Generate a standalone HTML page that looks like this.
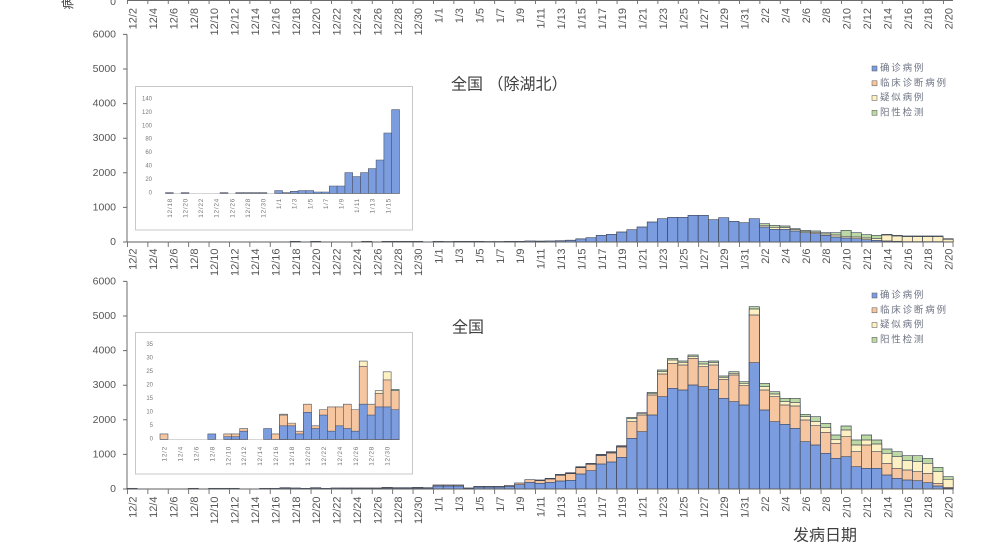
<!DOCTYPE html>
<html><head><meta charset="utf-8"><style>
html,body{margin:0;padding:0;background:#fff;width:1000px;height:553px;overflow:hidden}
svg{display:block}
.bars path{vector-effect:non-scaling-stroke;stroke:#3f4656;stroke-width:.7}
.ib path{vector-effect:non-scaling-stroke;stroke:#4a5262;stroke-width:.6}
.b{fill:#7b9de0}.o{fill:#f6c6a0}.y{fill:#fdf0c3}.g{fill:#bcd8a4}
.xl text{dominant-baseline:central}
.yl text{dominant-baseline:central}
.lg text{dominant-baseline:central}
</style></head><body>
<svg width="1000" height="553" viewBox="0 0 1000 553" xmlns="http://www.w3.org/2000/svg" font-family="'Liberation Sans','Noto Sans CJK SC',sans-serif" overflow="hidden">
<rect width="1000" height="553" fill="#fff"/>

<!-- top remnant -->
<text transform="translate(68,3) rotate(-90)" font-size="13" text-anchor="middle" dominant-baseline="central" fill="#444">病</text>
<text x="116" y="2" font-size="10.5" text-anchor="end" dominant-baseline="central" fill="#555">0</text>
<line x1="127" y1="0.5" x2="953" y2="0.5" stroke="#6b6b6b" stroke-width="1"/>
<line x1="127" y1="2" x2="954" y2="2" stroke="#6b6b6b" stroke-width="4" stroke-dasharray="0.9 19.5"/>
<g class="xl" transform="rotate(-90)" text-anchor="end" font-size="11" fill="#555">
<text x="-8" y="133.6">12/2</text><text x="-8" y="154">12/4</text><text x="-8" y="174.4">12/6</text><text x="-8" y="194.8">12/8</text><text x="-8" y="215.2">12/10</text><text x="-8" y="235.6">12/12</text><text x="-8" y="256">12/14</text><text x="-8" y="276.4">12/16</text><text x="-8" y="296.8">12/18</text><text x="-8" y="317.2">12/20</text><text x="-8" y="337.6">12/22</text><text x="-8" y="358">12/24</text><text x="-8" y="378.4">12/26</text><text x="-8" y="398.8">12/28</text><text x="-8" y="419.2">12/30</text><text x="-8" y="439.6">1/1</text><text x="-8" y="460">1/3</text><text x="-8" y="480.4">1/5</text><text x="-8" y="500.8">1/7</text><text x="-8" y="521.2">1/9</text><text x="-8" y="541.6">1/11</text><text x="-8" y="562">1/13</text><text x="-8" y="582.4">1/15</text><text x="-8" y="602.8">1/17</text><text x="-8" y="623.2">1/19</text><text x="-8" y="643.6">1/21</text><text x="-8" y="664">1/23</text><text x="-8" y="684.4">1/25</text><text x="-8" y="704.8">1/27</text><text x="-8" y="725.2">1/29</text><text x="-8" y="745.6">1/31</text><text x="-8" y="766">2/2</text><text x="-8" y="786.4">2/4</text><text x="-8" y="806.8">2/6</text><text x="-8" y="827.2">2/8</text><text x="-8" y="847.6">2/10</text><text x="-8" y="868">2/12</text><text x="-8" y="888.4">2/14</text><text x="-8" y="908.8">2/16</text><text x="-8" y="929.2">2/18</text><text x="-8" y="949.6">2/20</text>
</g>

<!-- ============ CHART 1 ============ -->
<g class="yl" font-size="10.5" text-anchor="end" fill="#555">
<text x="116" y="34.4">6000</text><text x="116" y="69">5000</text><text x="116" y="103.6">4000</text><text x="116" y="138.2">3000</text><text x="116" y="172.8">2000</text><text x="116" y="207.4">1000</text><text x="116" y="242">0</text>
</g>
<path d="M127 34.4V242M123 34.4h4M123 69h4M123 103.6h4M123 138.2h4M123 172.8h4M123 207.4h4M123 242h4" stroke="#6b6b6b" stroke-width="1" fill="none"/>

<text x="451" y="85" font-size="16" fill="#404040" dominant-baseline="central">全国 （除湖北）</text>

<g class="lg" font-size="9.5" letter-spacing="1.8" fill="#6d7382">
<rect x="872" y="66" width="5" height="5" class="b" stroke="#555" stroke-width=".5"/><text x="880" y="68.5">确诊病例</text>
<rect x="872" y="80.8" width="5" height="5" class="o" stroke="#555" stroke-width=".5"/><text x="880" y="83.3">临床诊断病例</text>
<rect x="872" y="95.5" width="5" height="5" class="y" stroke="#555" stroke-width=".5"/><text x="880" y="98">疑似病例</text>
<rect x="872" y="110.3" width="5" height="5" class="g" stroke="#555" stroke-width=".5"/><text x="880" y="112.8">阳性检测</text>
</g>

<!-- inset 1 -->
<rect x="135.5" y="86.5" width="277" height="143.5" fill="#fff" stroke="#c9c9c9" stroke-width="1"/>
<g class="yl" font-size="6" text-anchor="end" fill="#777">
<text x="152" y="99.5">140</text><text x="152" y="112.9">120</text><text x="152" y="126.3">100</text><text x="152" y="139.7">80</text><text x="152" y="153.1">60</text><text x="152" y="166.5">40</text><text x="152" y="179.9">20</text><text x="152" y="193.3">0</text>
</g>
<line x1="165" y1="193.5" x2="400" y2="193.5" stroke="#d5d5d5" stroke-width="1"/>
<g class="ib b" transform="translate(165.5,80) scale(7.8,0.33333)">
<path d="M0 338V340h1V338z"/><path d="M2 338V340h1V338z"/><path d="M7 338V340h1V338z"/><path d="M9 338V340h1V338z"/><path d="M10 338V340h1V338z"/><path d="M11 338V340h1V338z"/><path d="M12 338V340h1V338z"/><path d="M14 332V340h1V332z"/><path d="M15 338V340h1V338z"/><path d="M16 334V340h1V334z"/><path d="M17 332V340h1V332z"/><path d="M18 332V340h1V332z"/><path d="M19 336V340h1V336z"/><path d="M20 336V340h1V336z"/><path d="M21 318V340h1V318z"/><path d="M22 318V340h1V318z"/><path d="M23 278V340h1V278z"/><path d="M24 290V340h1V290z"/><path d="M25 278V340h1V278z"/><path d="M26 266V340h1V266z"/><path d="M27 240V340h1V240z"/><path d="M28 159V340h1V159z"/><path d="M29 89V340h1V89z"/>
</g>
<g class="xl" transform="rotate(-90)" text-anchor="end" font-size="6.5" letter-spacing="0.7" fill="#777">
<text x="-198" y="170.4">12/18</text><text x="-198" y="186">12/20</text><text x="-198" y="201.6">12/22</text><text x="-198" y="217.2">12/24</text><text x="-198" y="232.8">12/26</text><text x="-198" y="248.4">12/28</text><text x="-198" y="264">12/30</text><text x="-198" y="279.6">1/1</text><text x="-198" y="295.2">1/3</text><text x="-198" y="310.8">1/5</text><text x="-198" y="326.4">1/7</text><text x="-198" y="342">1/9</text><text x="-198" y="357.6">1/11</text><text x="-198" y="373.2">1/13</text><text x="-198" y="388.8">1/15</text>
</g>

<!-- chart 1 bars (base 185) -->
<g class="bars" transform="translate(127,180.33) scale(10.2,0.33333)">
<g class="g">
<path d="M62 130V185h1V130z"/><path d="M63 135V185h1V135z"/><path d="M64 137V185h1V137z"/><path d="M65 145V185h1V145z"/><path d="M66 150V185h1V150z"/><path d="M67 152V185h1V152z"/><path d="M68 157V185h1V157z"/><path d="M69 157V185h1V157z"/><path d="M70 150V185h1V150z"/><path d="M71 157V185h1V157z"/><path d="M72 163V185h1V163z"/><path d="M73 165V185h1V165z"/><path d="M74 162V185h1V162z"/><path d="M75 165V185h1V165z"/><path d="M76 167V185h1V167z"/><path d="M77 167V185h1V167z"/><path d="M78 167V185h1V167z"/><path d="M79 167V185h1V167z"/><path d="M80 175V185h1V175z"/>
</g>
<g class="y">
<path d="M62 135V185h1V135z"/><path d="M63 141V185h1V141z"/><path d="M64 142V185h1V142z"/><path d="M65 148V185h1V148z"/><path d="M66 153V185h1V153z"/><path d="M67 156V185h1V156z"/><path d="M68 161V185h1V161z"/><path d="M69 164V185h1V164z"/><path d="M70 168V185h1V168z"/><path d="M71 170V185h1V170z"/><path d="M72 173V185h1V173z"/><path d="M73 175V185h1V175z"/><path d="M74 164V185h1V164z"/><path d="M75 167V185h1V167z"/><path d="M76 169V185h1V169z"/><path d="M77 169V185h1V169z"/><path d="M78 169V185h1V169z"/><path d="M79 169V185h1V169z"/><path d="M80 177V185h1V177z"/>
</g>
<g class="b">
<path d="M16 183V185h1V183z"/><path d="M18 183V185h1V183z"/><path d="M23 183V185h1V183z"/><path d="M25 183V185h1V183z"/><path d="M26 183V185h1V183z"/><path d="M27 183V185h1V183z"/><path d="M28 183V185h1V183z"/><path d="M30 183V185h1V183z"/><path d="M31 183.5V185h1V183.5z"/><path d="M32 183V185h1V183z"/><path d="M33 183V185h1V183z"/><path d="M34 183V185h1V183z"/><path d="M35 183.5V185h1V183.5z"/><path d="M36 183.5V185h1V183.5z"/><path d="M37 183V185h1V183z"/><path d="M38 183V185h1V183z"/><path d="M39 181.8V185h1V181.8z"/><path d="M40 182.4V185h1V182.4z"/><path d="M41 181.8V185h1V181.8z"/><path d="M42 181.2V185h1V181.2z"/><path d="M43 179.8V185h1V179.8z"/><path d="M44 175.6V185h1V175.6z"/><path d="M45 172V185h1V172z"/><path d="M46 165V185h1V165z"/><path d="M47 162V185h1V162z"/><path d="M48 155V185h1V155z"/><path d="M49 148V185h1V148z"/><path d="M50 140V185h1V140z"/><path d="M51 125V185h1V125z"/><path d="M52 115V185h1V115z"/><path d="M53 111V185h1V111z"/><path d="M54 111V185h1V111z"/><path d="M55 105V185h1V105z"/><path d="M56 105V185h1V105z"/><path d="M57 118V185h1V118z"/><path d="M58 112V185h1V112z"/><path d="M59 123V185h1V123z"/><path d="M60 127V185h1V127z"/><path d="M61 115V185h1V115z"/><path d="M62 140V185h1V140z"/><path d="M63 147V185h1V147z"/><path d="M64 147V185h1V147z"/><path d="M65 152V185h1V152z"/><path d="M66 157V185h1V157z"/><path d="M67 160V185h1V160z"/><path d="M68 165V185h1V165z"/><path d="M69 170V185h1V170z"/><path d="M70 173V185h1V173z"/><path d="M71 175V185h1V175z"/><path d="M72 178V185h1V178z"/><path d="M73 180V185h1V180z"/><path d="M74 182V185h1V182z"/><path d="M75 183V185h1V183z"/><path d="M76 184V185h1V184z"/><path d="M77 184V185h1V184z"/><path d="M78 184V185h1V184z"/><path d="M79 184V185h1V184z"/><path d="M80 184.5V185h1V184.5z"/>
</g>
</g>
<line x1="127" y1="242" x2="953" y2="242" stroke="#5e5e5e" stroke-width="1"/>
<line x1="127" y1="244.5" x2="954" y2="244.5" stroke="#6b6b6b" stroke-width="5" stroke-dasharray="0.9 19.5"/>
<line x1="953" y1="242" x2="953" y2="247" stroke="#6b6b6b" stroke-width="0.9"/>
<g class="xl" transform="rotate(-90)" text-anchor="end" font-size="11" fill="#555">
<text x="-248.5" y="133.6">12/2</text><text x="-248.5" y="154">12/4</text><text x="-248.5" y="174.4">12/6</text><text x="-248.5" y="194.8">12/8</text><text x="-248.5" y="215.2">12/10</text><text x="-248.5" y="235.6">12/12</text><text x="-248.5" y="256">12/14</text><text x="-248.5" y="276.4">12/16</text><text x="-248.5" y="296.8">12/18</text><text x="-248.5" y="317.2">12/20</text><text x="-248.5" y="337.6">12/22</text><text x="-248.5" y="358">12/24</text><text x="-248.5" y="378.4">12/26</text><text x="-248.5" y="398.8">12/28</text><text x="-248.5" y="419.2">12/30</text><text x="-248.5" y="439.6">1/1</text><text x="-248.5" y="460">1/3</text><text x="-248.5" y="480.4">1/5</text><text x="-248.5" y="500.8">1/7</text><text x="-248.5" y="521.2">1/9</text><text x="-248.5" y="541.6">1/11</text><text x="-248.5" y="562">1/13</text><text x="-248.5" y="582.4">1/15</text><text x="-248.5" y="602.8">1/17</text><text x="-248.5" y="623.2">1/19</text><text x="-248.5" y="643.6">1/21</text><text x="-248.5" y="664">1/23</text><text x="-248.5" y="684.4">1/25</text><text x="-248.5" y="704.8">1/27</text><text x="-248.5" y="725.2">1/29</text><text x="-248.5" y="745.6">1/31</text><text x="-248.5" y="766">2/2</text><text x="-248.5" y="786.4">2/4</text><text x="-248.5" y="806.8">2/6</text><text x="-248.5" y="827.2">2/8</text><text x="-248.5" y="847.6">2/10</text><text x="-248.5" y="868">2/12</text><text x="-248.5" y="888.4">2/14</text><text x="-248.5" y="908.8">2/16</text><text x="-248.5" y="929.2">2/18</text><text x="-248.5" y="949.6">2/20</text>
</g>

<!-- ============ CHART 2 ============ -->
<g class="yl" font-size="10.5" text-anchor="end" fill="#555">
<text x="116" y="281.4">6000</text><text x="116" y="316">5000</text><text x="116" y="350.6">4000</text><text x="116" y="385.2">3000</text><text x="116" y="419.8">2000</text><text x="116" y="454.4">1000</text><text x="116" y="489">0</text>
</g>
<path d="M127 281.4V489M123 281.4h4M123 316h4M123 350.6h4M123 385.2h4M123 419.8h4M123 454.4h4M123 489h4" stroke="#6b6b6b" stroke-width="1" fill="none"/>

<text x="452" y="328" font-size="16" fill="#404040" dominant-baseline="central">全国</text>

<g class="lg" font-size="9.5" letter-spacing="1.8" fill="#6d7382">
<rect x="872" y="293" width="5" height="5" class="b" stroke="#555" stroke-width=".5"/><text x="880" y="295.5">确诊病例</text>
<rect x="872" y="307.8" width="5" height="5" class="o" stroke="#555" stroke-width=".5"/><text x="880" y="310.3">临床诊断病例</text>
<rect x="872" y="322.5" width="5" height="5" class="y" stroke="#555" stroke-width=".5"/><text x="880" y="325">疑似病例</text>
<rect x="872" y="337.3" width="5" height="5" class="g" stroke="#555" stroke-width=".5"/><text x="880" y="339.8">阳性检测</text>
</g>

<!-- inset 2 (base 358) -->
<rect x="135.5" y="332.5" width="277" height="141.5" fill="#fff" stroke="#c9c9c9" stroke-width="1"/>
<g class="yl" font-size="6" text-anchor="end" fill="#777">
<text x="153" y="344.8">35</text><text x="153" y="358.3">30</text><text x="153" y="371.8">25</text><text x="153" y="385.3">20</text><text x="153" y="398.8">15</text><text x="153" y="412.3">10</text><text x="153" y="425.8">5</text><text x="153" y="439.3">0</text>
</g>
<line x1="160" y1="439.5" x2="400" y2="439.5" stroke="#d5d5d5" stroke-width="1"/>
<g class="ib" transform="translate(160,320) scale(7.97,0.33333)">
<g class="g"><path d="M29 208V358h1V208z"/></g>
<g class="y"><path d="M15 282.7V358h1V282.7z"/><path d="M25 123.1V358h1V123.1z"/><path d="M27 212.2V358h1V212.2z"/><path d="M28 155.5V358h1V155.5z"/></g>
<g class="o">
<path d="M0 341.8V358h1V341.8z"/><path d="M8 341.8V358h1V341.8z"/><path d="M9 341.8V358h1V341.8z"/><path d="M10 325.6V358h1V325.6z"/><path d="M14 341.8V358h1V341.8z"/><path d="M15 285.1V358h1V285.1z"/><path d="M16 309.4V358h1V309.4z"/><path d="M17 333.7V358h1V333.7z"/><path d="M18 252.7V358h1V252.7z"/><path d="M19 317.5V358h1V317.5z"/><path d="M20 268.9V358h1V268.9z"/><path d="M21 260.8V358h1V260.8z"/><path d="M22 260.8V358h1V260.8z"/><path d="M23 252.7V358h1V252.7z"/><path d="M24 268.9V358h1V268.9z"/><path d="M25 139.3V358h1V139.3z"/><path d="M26 252.7V358h1V252.7z"/><path d="M27 220.3V358h1V220.3z"/><path d="M28 179.8V358h1V179.8z"/><path d="M29 212.2V358h1V212.2z"/>
</g>
<g class="b">
<path d="M6 341.8V358h1V341.8z"/><path d="M8 349.9V358h1V349.9z"/><path d="M9 349.9V358h1V349.9z"/><path d="M10 333.7V358h1V333.7z"/><path d="M13 325.6V358h1V325.6z"/><path d="M15 317.5V358h1V317.5z"/><path d="M16 317.5V358h1V317.5z"/><path d="M17 341.8V358h1V341.8z"/><path d="M18 277V358h1V277z"/><path d="M19 325.6V358h1V325.6z"/><path d="M20 285.1V358h1V285.1z"/><path d="M21 333.7V358h1V333.7z"/><path d="M22 317.5V358h1V317.5z"/><path d="M23 325.6V358h1V325.6z"/><path d="M24 333.7V358h1V333.7z"/><path d="M25 252.7V358h1V252.7z"/><path d="M26 285.1V358h1V285.1z"/><path d="M27 260.8V358h1V260.8z"/><path d="M28 260.8V358h1V260.8z"/><path d="M29 268.9V358h1V268.9z"/>
</g>
</g>
<g class="xl" transform="rotate(-90)" text-anchor="end" font-size="6.5" letter-spacing="0.7" fill="#777">
<text x="-446" y="165">12/2</text><text x="-446" y="180.9">12/4</text><text x="-446" y="196.9">12/6</text><text x="-446" y="212.8">12/8</text><text x="-446" y="228.8">12/10</text><text x="-446" y="244.7">12/12</text><text x="-446" y="260.6">12/14</text><text x="-446" y="276.6">12/16</text><text x="-446" y="292.5">12/18</text><text x="-446" y="308.5">12/20</text><text x="-446" y="324.4">12/22</text><text x="-446" y="340.3">12/24</text><text x="-446" y="356.3">12/26</text><text x="-446" y="372.2">12/28</text><text x="-446" y="388.2">12/30</text>
</g>

<!-- chart 2 bars (base 597) -->
<g class="bars" transform="translate(127,290) scale(10.2,0.33333)">
<g class="g">
<path d="M40 570V597h1V570z"/><path d="M41 565V597h1V565z"/><path d="M42 553V597h1V553z"/><path d="M43 548V597h1V548z"/><path d="M44 530V597h1V530z"/><path d="M45 520V597h1V520z"/><path d="M46 493V597h1V493z"/><path d="M47 485V597h1V485z"/><path d="M48 467V597h1V467z"/><path d="M49 382V597h1V382z"/><path d="M50 368V597h1V368z"/><path d="M51 307V597h1V307z"/><path d="M52 240V597h1V240z"/><path d="M53 205V597h1V205z"/><path d="M54 213V597h1V213z"/><path d="M55 195V597h1V195z"/><path d="M56 215V597h1V215z"/><path d="M57 213V597h1V213z"/><path d="M58 258V597h1V258z"/><path d="M59 245V597h1V245z"/><path d="M60 275V597h1V275z"/><path d="M61 50V597h1V50z"/><path d="M62 280V597h1V280z"/><path d="M63 305V597h1V305z"/><path d="M64 325V597h1V325z"/><path d="M65 325V597h1V325z"/><path d="M66 373V597h1V373z"/><path d="M67 380V597h1V380z"/><path d="M68 400V597h1V400z"/><path d="M69 435V597h1V435z"/><path d="M70 408V597h1V408z"/><path d="M71 450V597h1V450z"/><path d="M72 435V597h1V435z"/><path d="M73 450V597h1V450z"/><path d="M74 477V597h1V477z"/><path d="M75 485V597h1V485z"/><path d="M76 497V597h1V497z"/><path d="M77 497V597h1V497z"/><path d="M78 505V597h1V505z"/><path d="M79 532V597h1V532z"/><path d="M80 560V597h1V560z"/>
</g>
<g class="y">
<path d="M40 571V597h1V571z"/><path d="M41 566V597h1V566z"/><path d="M42 555V597h1V555z"/><path d="M43 550V597h1V550z"/><path d="M44 532V597h1V532z"/><path d="M45 522V597h1V522z"/><path d="M46 495V597h1V495z"/><path d="M47 487V597h1V487z"/><path d="M48 469V597h1V469z"/><path d="M49 386V597h1V386z"/><path d="M50 370V597h1V370z"/><path d="M51 310V597h1V310z"/><path d="M52 245V597h1V245z"/><path d="M53 210V597h1V210z"/><path d="M54 217V597h1V217z"/><path d="M55 199V597h1V199z"/><path d="M56 222V597h1V222z"/><path d="M57 218V597h1V218z"/><path d="M58 262V597h1V262z"/><path d="M59 250V597h1V250z"/><path d="M60 280V597h1V280z"/><path d="M61 57V597h1V57z"/><path d="M62 290V597h1V290z"/><path d="M63 312V597h1V312z"/><path d="M64 335V597h1V335z"/><path d="M65 338V597h1V338z"/><path d="M66 380V597h1V380z"/><path d="M67 395V597h1V395z"/><path d="M68 413V597h1V413z"/><path d="M69 448V597h1V448z"/><path d="M70 420V597h1V420z"/><path d="M71 465V597h1V465z"/><path d="M72 450V597h1V450z"/><path d="M73 462V597h1V462z"/><path d="M74 490V597h1V490z"/><path d="M75 500V597h1V500z"/><path d="M76 512V597h1V512z"/><path d="M77 515V597h1V515z"/><path d="M78 520V597h1V520z"/><path d="M79 545V597h1V545z"/><path d="M80 568V597h1V568z"/>
</g>
<g class="o">
<path d="M0 595V597h1V595z"/><path d="M14 595V597h1V595z"/><path d="M15 593V597h1V593z"/><path d="M18 593V597h1V593z"/><path d="M21 594V597h1V594z"/><path d="M22 594V597h1V594z"/><path d="M23 594V597h1V594z"/><path d="M24 594V597h1V594z"/><path d="M25 592V597h1V592z"/><path d="M26 593V597h1V593z"/><path d="M27 593V597h1V593z"/><path d="M28 592V597h1V592z"/><path d="M29 593V597h1V593z"/><path d="M30 585V597h1V585z"/><path d="M31 585V597h1V585z"/><path d="M32 585V597h1V585z"/><path d="M33 594V597h1V594z"/><path d="M34 589V597h1V589z"/><path d="M35 589V597h1V589z"/><path d="M36 589V597h1V589z"/><path d="M37 586V597h1V586z"/><path d="M38 579V597h1V579z"/><path d="M39 569V597h1V569z"/>
<path d="M40 572V597h1V572z"/><path d="M41 567V597h1V567z"/><path d="M42 556V597h1V556z"/><path d="M43 551V597h1V551z"/><path d="M44 533V597h1V533z"/><path d="M45 523V597h1V523z"/><path d="M46 497V597h1V497z"/><path d="M47 489V597h1V489z"/><path d="M48 471V597h1V471z"/><path d="M49 395V597h1V395z"/><path d="M50 375V597h1V375z"/><path d="M51 315V597h1V315z"/><path d="M52 252V597h1V252z"/><path d="M53 220V597h1V220z"/><path d="M54 225V597h1V225z"/><path d="M55 205V597h1V205z"/><path d="M56 230V597h1V230z"/><path d="M57 225V597h1V225z"/><path d="M58 268V597h1V268z"/><path d="M59 255V597h1V255z"/><path d="M60 287V597h1V287z"/><path d="M61 75V597h1V75z"/><path d="M62 300V597h1V300z"/><path d="M63 320V597h1V320z"/><path d="M64 345V597h1V345z"/><path d="M65 348V597h1V348z"/><path d="M66 390V597h1V390z"/><path d="M67 407V597h1V407z"/><path d="M68 427V597h1V427z"/><path d="M69 460V597h1V460z"/><path d="M70 440V597h1V440z"/><path d="M71 485V597h1V485z"/><path d="M72 465V597h1V465z"/><path d="M73 485V597h1V485z"/><path d="M74 520V597h1V520z"/><path d="M75 535V597h1V535z"/><path d="M76 540V597h1V540z"/><path d="M77 545V597h1V545z"/><path d="M78 550V597h1V550z"/><path d="M79 580V597h1V580z"/><path d="M80 592V597h1V592z"/>
</g>
<g class="b">
<path d="M6 595V597h1V595z"/><path d="M8 595V597h1V595z"/><path d="M9 595V597h1V595z"/><path d="M10 595V597h1V595z"/><path d="M13 595V597h1V595z"/><path d="M15 594V597h1V594z"/><path d="M16 594V597h1V594z"/><path d="M17 595V597h1V595z"/><path d="M18 594V597h1V594z"/><path d="M19 595V597h1V595z"/><path d="M20 594V597h1V594z"/><path d="M21 595V597h1V595z"/><path d="M22 595V597h1V595z"/><path d="M23 595V597h1V595z"/><path d="M24 595V597h1V595z"/><path d="M25 594V597h1V594z"/><path d="M26 594V597h1V594z"/><path d="M27 594V597h1V594z"/><path d="M28 594V597h1V594z"/><path d="M29 594V597h1V594z"/><path d="M30 588V597h1V588z"/><path d="M31 588V597h1V588z"/><path d="M32 588V597h1V588z"/><path d="M33 595V597h1V595z"/><path d="M34 591V597h1V591z"/><path d="M35 591V597h1V591z"/><path d="M36 591V597h1V591z"/><path d="M37 589V597h1V589z"/><path d="M38 584V597h1V584z"/><path d="M39 577V597h1V577z"/>
<path d="M40 580V597h1V580z"/><path d="M41 577V597h1V577z"/><path d="M42 573V597h1V573z"/><path d="M43 571V597h1V571z"/><path d="M44 552V597h1V552z"/><path d="M45 542V597h1V542z"/><path d="M46 522V597h1V522z"/><path d="M47 516V597h1V516z"/><path d="M48 502V597h1V502z"/><path d="M49 445V597h1V445z"/><path d="M50 425V597h1V425z"/><path d="M51 375V597h1V375z"/><path d="M52 320V597h1V320z"/><path d="M53 295V597h1V295z"/><path d="M54 300V597h1V300z"/><path d="M55 285V597h1V285z"/><path d="M56 290V597h1V290z"/><path d="M57 298V597h1V298z"/><path d="M58 325V597h1V325z"/><path d="M59 335V597h1V335z"/><path d="M60 345V597h1V345z"/><path d="M61 218V597h1V218z"/><path d="M62 360V597h1V360z"/><path d="M63 395V597h1V395z"/><path d="M64 403V597h1V403z"/><path d="M65 415V597h1V415z"/><path d="M66 455V597h1V455z"/><path d="M67 465V597h1V465z"/><path d="M68 490V597h1V490z"/><path d="M69 505V597h1V505z"/><path d="M70 500V597h1V500z"/><path d="M71 530V597h1V530z"/><path d="M72 535V597h1V535z"/><path d="M73 535V597h1V535z"/><path d="M74 555V597h1V555z"/><path d="M75 565V597h1V565z"/><path d="M76 570V597h1V570z"/><path d="M77 572V597h1V572z"/><path d="M78 578V597h1V578z"/><path d="M79 588V597h1V588z"/><path d="M80 595V597h1V595z"/>
</g>
</g>
<line x1="127" y1="489" x2="953" y2="489" stroke="#5e5e5e" stroke-width="1"/>
<line x1="127" y1="491.5" x2="954" y2="491.5" stroke="#6b6b6b" stroke-width="5" stroke-dasharray="0.9 19.5"/>
<line x1="953" y1="489" x2="953" y2="494" stroke="#6b6b6b" stroke-width="0.9"/>
<g class="xl" transform="rotate(-90)" text-anchor="end" font-size="11" fill="#555">
<text x="-496.5" y="133.6">12/2</text><text x="-496.5" y="154">12/4</text><text x="-496.5" y="174.4">12/6</text><text x="-496.5" y="194.8">12/8</text><text x="-496.5" y="215.2">12/10</text><text x="-496.5" y="235.6">12/12</text><text x="-496.5" y="256">12/14</text><text x="-496.5" y="276.4">12/16</text><text x="-496.5" y="296.8">12/18</text><text x="-496.5" y="317.2">12/20</text><text x="-496.5" y="337.6">12/22</text><text x="-496.5" y="358">12/24</text><text x="-496.5" y="378.4">12/26</text><text x="-496.5" y="398.8">12/28</text><text x="-496.5" y="419.2">12/30</text><text x="-496.5" y="439.6">1/1</text><text x="-496.5" y="460">1/3</text><text x="-496.5" y="480.4">1/5</text><text x="-496.5" y="500.8">1/7</text><text x="-496.5" y="521.2">1/9</text><text x="-496.5" y="541.6">1/11</text><text x="-496.5" y="562">1/13</text><text x="-496.5" y="582.4">1/15</text><text x="-496.5" y="602.8">1/17</text><text x="-496.5" y="623.2">1/19</text><text x="-496.5" y="643.6">1/21</text><text x="-496.5" y="664">1/23</text><text x="-496.5" y="684.4">1/25</text><text x="-496.5" y="704.8">1/27</text><text x="-496.5" y="725.2">1/29</text><text x="-496.5" y="745.6">1/31</text><text x="-496.5" y="766">2/2</text><text x="-496.5" y="786.4">2/4</text><text x="-496.5" y="806.8">2/6</text><text x="-496.5" y="827.2">2/8</text><text x="-496.5" y="847.6">2/10</text><text x="-496.5" y="868">2/12</text><text x="-496.5" y="888.4">2/14</text><text x="-496.5" y="908.8">2/16</text><text x="-496.5" y="929.2">2/18</text><text x="-496.5" y="949.6">2/20</text>
</g>

<text x="793" y="536" font-size="16" fill="#404040" dominant-baseline="central">发病日期</text>
</svg>
</body></html>
